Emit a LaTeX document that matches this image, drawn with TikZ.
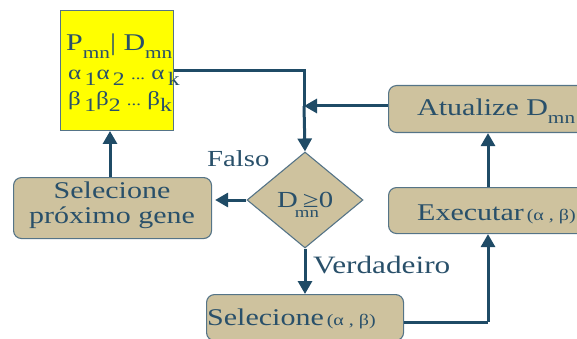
\documentclass[tikz,border=0pt]{standalone}
\usepackage{fontspec}
\setmainfont[FakeStretch=1.25]{Liberation Serif}
\usetikzlibrary{arrows.meta,shapes.geometric}
\definecolor{ink}{HTML}{29506A}
\definecolor{wire}{HTML}{1F4B66}
\definecolor{tan}{HTML}{CEC29E}
\definecolor{rim}{HTML}{557487}
\definecolor{lemon}{HTML}{FFFF00}
% lowered small text for indices
\newcommand{\lo}[2][17]{\raisebox{-0.3em}{\fontsize{#1}{#1}\selectfont #2}}
\newcommand{\mainsize}{\fontsize{24}{28}\selectfont}
\newcommand{\smalldots}{{\fontsize{15}{15}\selectfont ...}}
\begin{document}
\begin{tikzpicture}[x=1pt,y=-1pt,
  box/.style={draw=rim, line width=1.1pt, fill=tan, rounded corners=8pt,
              inner sep=0pt, anchor=north west},
  txt/.style={text=ink, inner sep=0pt, anchor=base west, font=\mainsize},
  flow/.style={draw=wire, line width=3pt,
               -{Triangle[width=14pt,length=13pt]}},
  wire/.style={draw=wire, line width=3pt}]
\useasboundingbox (0,0) rectangle (577,339);
\clip (0,0) rectangle (577,339);

% data block
\node[draw=rim, line width=1pt, fill=lemon, inner sep=0pt, anchor=north west,
      minimum width=113pt, minimum height=120pt] (data) at (60,10) {};
\node[txt] (dl1) at (66,51) {P\lo{mn}| D\lo{mn}};
\node[txt, font=\fontsize{20}{22}\selectfont] (dl2) at (68,80)
  {α\,\lo[19]{1}α\,\lo[19]{2} \smalldots\ α\,\lo[19]{k}};
\node[txt, font=\fontsize{20}{22}\selectfont] (dl3) at (68,106)
  {β\,\lo[19]{1}β\lo[19]{2} \smalldots\ β\lo[19]{k}};

% decision
\node[diamond, draw=rim, line width=1.1pt, fill=tan, inner sep=0pt,
      minimum width=116pt, minimum height=96pt] (test) at (305,200) {};
\node[txt, font=\fontsize{23}{23}\selectfont] (testlbl) at (277,207)
  {D\rlap{\hspace{-3pt}\raisebox{-0.45em}{\fontsize{15}{15}\selectfont mn}}\hspace{5pt}≥0};

% process boxes
\node[box, minimum width=198pt, minimum height=61pt] (next) at (13,177) {};
\node[txt, anchor=base] (next1) at (112,198) {Selecione};
\node[txt, anchor=base] (next2) at (112,223) {próximo gene};

\node[box, minimum width=197pt, minimum height=46pt] (pick) at (206,294) {};
\node[txt] (picklbl) at (207,325)
  {Selecione\hspace{3pt}{\fontsize{16}{16}\selectfont(α , β)}};

\node[box, minimum width=220pt, minimum height=46pt] (run) at (388,187) {};
\node[txt] (runlbl) at (417,220)
  {Executar\hspace{3pt}{\fontsize{16}{16}\selectfont(α , β)}};

\node[box, minimum width=220pt, minimum height=47pt] (upd) at (388,85) {};
\node[txt] (updlbl) at (417,116) {Atualize D\lo{mn}};

% branch labels
\node[txt, font=\fontsize{23}{24}\selectfont] (no) at (207,166) {Falso};
\node[txt, font=\fontsize{25}{26}\selectfont] (yes) at (313,273) {Verdadeiro};

% connectors
\coordinate (join) at (304,106);
\draw[wire] (data.east |- 0,71) -- (304,71) -- (join);
\draw[flow] (join) -- (test.north);
\draw[flow] (upd.west |- join) -- (join);
\draw[flow] (test.west) -- ([xshift=3pt]next.east |- test.west);
\draw[flow] (next.north -| 110,0) -- (data.south -| 110,0);
\draw[flow] (test.south) -- (test.south |- pick.north);
\draw[wire] (pick.east |- 0,322) -- (488,322);
\draw[flow] (488,322) -- (run.south -| 488,0);
\draw[flow] (run.north -| 488,0) -- (upd.south -| 488,0);
\end{tikzpicture}
\end{document}
